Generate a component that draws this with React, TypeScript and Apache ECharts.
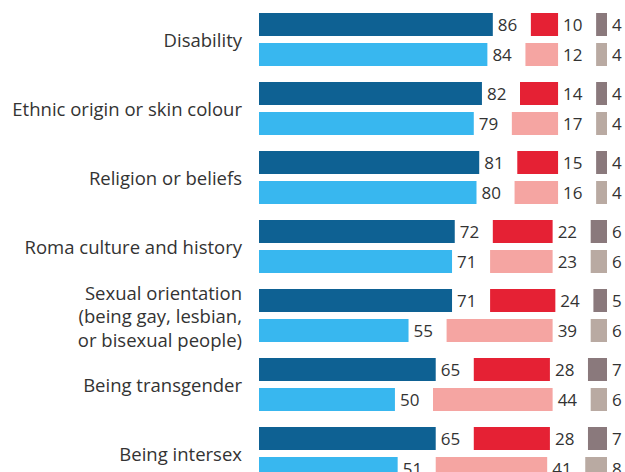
import React, { useEffect, useRef } from "react";
import * as echarts from "echarts";

const categories = [
  "Disability",
  "Ethnic origin or skin colour",
  "Religion or beliefs",
  "Roma culture and history",
  "Sexual orientation\n(being gay, lesbian,\nor bisexual people)",
  "Being transgender",
  "Being intersex",
];

// Dark row (upper bar of each pair)
const agreeA = [86, 82, 81, 72, 71, 65, 65];
const disagreeA = [10, 14, 15, 22, 24, 28, 28];
const dkA = [4, 4, 4, 6, 5, 7, 7];

// Light row (lower bar of each pair)
const agreeB = [84, 79, 80, 71, 55, 50, 51];
const disagreeB = [12, 17, 16, 23, 39, 44, 41];
const dkB = [4, 4, 4, 6, 6, 6, 8];

const GAP = 14;

const FONT = "Open Sans";
const TEXT = "#333333";

export default function App() {
  const ref = useRef<HTMLDivElement>(null);
  useEffect(() => {
    if (!ref.current) return;
    const chart = echarts.init(ref.current, null, { renderer: "svg" });
    const label = {
      show: true,
      position: "right" as const,
      distance: 5,
      color: TEXT,
      fontSize: 17,
      fontFamily: FONT,
    };
    const gapArr = categories.map(() => GAP);
    const mk = (name: string, stack: string, data: number[], color: string | null) =>
      color
        ? {
            name,
            type: "bar",
            stack,
            data,
            barWidth: 23,
            barGap: "30.4%",
            itemStyle: { color },
            label,
            silent: true,
          }
        : {
            name,
            type: "bar",
            stack,
            data,
            barWidth: 23,
            barGap: "30.4%",
            itemStyle: { color: "transparent" },
            label: { show: false },
            silent: true,
          };
    chart.setOption({
      animation: false,
      grid: { left: 259, top: 5, width: 348, height: 483, containLabel: false },
      xAxis: { type: "value", min: 0, max: 100 + 2 * GAP, show: false },
      yAxis: {
        type: "category",
        data: categories,
        inverse: true,
        axisLine: { show: false },
        axisTick: { show: false },
        axisLabel: {
          color: TEXT,
          fontSize: 18.5,
          fontFamily: FONT,
          margin: 17,
          lineHeight: 23.5,
          align: "right",
        },
      },
      series: [
        mk("agreeA", "A", agreeA, "#0E6193"),
        mk("gapA1", "A", gapArr, null),
        mk("disagreeA", "A", disagreeA, "#E52134"),
        mk("gapA2", "A", gapArr, null),
        mk("dkA", "A", dkA, "#8A797C"),
        mk("agreeB", "B", agreeB, "#38B7EF"),
        mk("gapB1", "B", gapArr, null),
        mk("disagreeB", "B", disagreeB, "#F5A5A2"),
        mk("gapB2", "B", gapArr, null),
        mk("dkB", "B", dkB, "#B9AAA2"),
      ],
    });
    return () => chart.dispose();
  }, []);
  return (
    <div
      ref={ref}
      style={{ position: "fixed", left: 0, top: 0, width: 625, height: 500, background: "#fff" }}
    />
  );
}
